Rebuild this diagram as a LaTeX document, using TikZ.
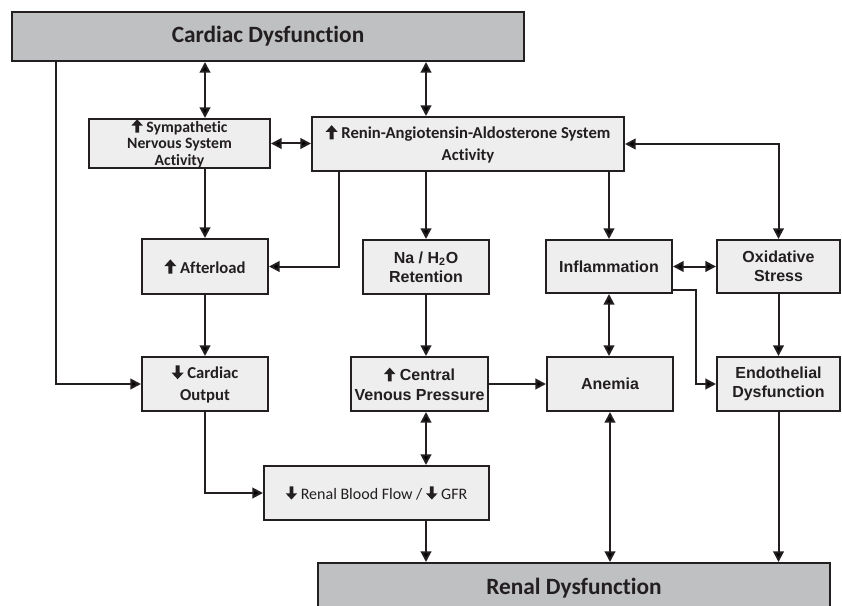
\documentclass[tikz,border=0pt]{standalone}
\usepackage{fontspec}
\setmainfont{Carlito}[Ligatures=NoCommon]
\newfontfamily\arialfont{Liberation Sans}
\usetikzlibrary{arrows.meta,calc,positioning}
\definecolor{boxfill}{HTML}{EEEEEE}
\definecolor{headfill}{HTML}{BFC0C2}
\definecolor{ink}{HTML}{231F20}
\newcommand{\UpArr}{\tikz[baseline=0pt,x=1em,y=1em]\fill[ink] (0.24,-0.03)--(0.48,-0.03)--(0.48,0.42)--(0.72,0.42)--(0.36,0.82)--(0.0,0.42)--(0.24,0.42)--cycle;}
\newcommand{\DownArr}{\tikz[baseline=0pt,x=1em,y=1em]\fill[ink] (0.24,0.80)--(0.48,0.80)--(0.48,0.36)--(0.72,0.36)--(0.36,-0.03)--(0.0,0.36)--(0.24,0.36)--cycle;}

\begin{document}
\begin{tikzpicture}[x=0.75pt,y=-0.75pt,
  size/.style 2 args={minimum width=#1*0.75pt,minimum height=#2*0.75pt},
  box/.style={draw=ink,line width=1.5pt,fill=boxfill,align=center,inner sep=0pt,text=ink,
    font=\fontsize{12.5}{16}\selectfont\bfseries},
  abox/.style={box,font=\fontsize{12}{14.5}\selectfont\arialfont\bfseries},
  headbox/.style={box,fill=headfill,font=\fontsize{17.5}{20}\selectfont\bfseries},
  tip/.tip={Triangle[length=8pt,width=8pt]},
  link/.style={draw=ink,line width=1.5pt,-tip},
  both/.style={link,tip-tip}]
\useasboundingbox (0,0) rectangle (842,606);
\clip (0,0) rectangle (842,606);

\node[headbox,size={512}{49}] (card) at (268,36.5) {Cardiac Dysfunction};
\node[box,size={181}{49},font=\fontsize{11.8}{12.4}\selectfont\bfseries] (symp) at (179.5,143.5) {\UpArr\ Sympathetic\\Nervous System\\Activity};
\node[box,size={312}{54}] (raas) at (468,144) {\UpArr\ Renin-Angiotensin-Aldosterone System\\Activity};
\node[box,size={126}{55}] (aft) at (205,266.5) {\UpArr\ Afterload};
\node[abox,size={126}{54}] (na) at (426,267) {Na / H\textsubscript{2}O\\Retention};
\node[abox,size={126}{53}] (infl) at (609,266.5) {Inflammation};
\node[abox,size={123}{53}] (oxi) at (778.5,266.5) {Oxidative\\Stress};
\node[box,size={126}{54}] (cout) at (205,384) {\DownArr\ Cardiac\\Output};
\node[abox,size={137}{54}] (cvp) at (419.5,384) {\UpArr\ Central\\Venous Pressure};
\node[abox,size={126}{54}] (anem) at (610,384) {Anemia};
\node[abox,size={123}{54}] (endo) at (778.5,384) {Endothelial\\Dysfunction};
\node[box,size={225}{54},font=\fontsize{12}{14}\selectfont] (rbf) at (376.5,493) {\DownArr\ Renal Blood Flow / \DownArr\ GFR};
\node[headbox,size={512}{50}] (renal) at (574,588) {Renal Dysfunction};

\coordinate (cardL) at ($(card.south west)+(45,0)$);
\coordinate (raasL) at ($(raas.south west)+(28,0)$);
\coordinate (inflR) at ($(infl.south east)+(0,-4)$);

\draw[both] (aft.north |- card.south) -- (aft.north |- symp.north);
\draw[both] (na.north |- card.south) -- (na.north |- raas.north);
\draw[both] (symp.east) -- (symp.east -| raas.west);
\draw[both] (raas.east) -| (oxi.north);
\draw[both] (infl.east) -- (oxi.west);
\draw[both] (infl.south) -- (infl.south |- anem.north);
\draw[both] (na.south |- cvp.south) -- (na.south |- rbf.north);
\draw[both] (anem.south) -- (anem.south |- renal.north);
\foreach \from/\to in {aft/cout,oxi/endo,na/cvp}
  \draw[link] (\from.south) -- (\from.south |- \to.north);
\draw[link] (aft.north |- symp.south) -- (aft.north);
\draw[link] (na.north |- raas.south) -- (na.north);
\draw[link] (infl.north |- raas.south) -- (infl.north);
\draw[link] (raasL) |- (aft.east);
\draw[link] (cardL) |- (cout.west);
\draw[link] (inflR) -- ++(23,0) |- (endo.west);
\draw[link] (cvp.east) -- (cvp.east -| anem.west);
\draw[link] (cout.south) |- (rbf.west);
\draw[link] (na.south |- rbf.south) -- (na.south |- renal.north);
\draw[link] (endo.south) -- (endo.south |- renal.north);
\end{tikzpicture}
\end{document}
